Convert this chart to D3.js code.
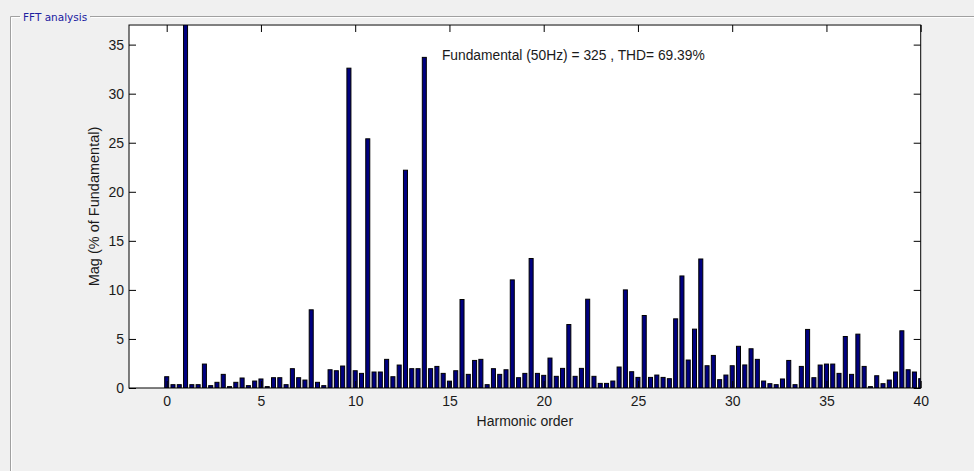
<!DOCTYPE html>
<html>
<head>
<meta charset="utf-8">
<script src="https://cdn.jsdelivr.net/npm/d3@7"></script>
<style>
  html, body { margin: 0; padding: 0; background: #f0f0f0; }
  svg { display: block; font-family: "Liberation Sans", Arial, sans-serif; }
</style>
</head>
<body>
<svg id="chart" width="974" height="471"></svg>
<script>
// Harmonic spectrum, bins spaced 1/3 of the fundamental (50 Hz / 3 resolution)
const binStep = 1 / 3;
const magnitudes = [
  1.15, 0.34, 0.34, 100, 0.34, 0.34, 2.44, 0.24, 0.58, 1.39,
  0.14, 0.58, 1.02, 0.24, 0.71, 0.92, 0.14, 1.05, 1.05, 0.34,
  1.97, 1.05, 0.81, 7.97, 0.58, 0.24, 1.86, 1.76, 2.24, 32.6,
  1.76, 1.49, 25.4, 1.63, 1.63, 2.92, 1.15, 2.34, 22.2, 1.97,
  1.97, 33.7, 1.97, 2.2, 1.49, 0.7, 1.76, 9.02, 1.39, 2.81,
  2.92, 0.34, 1.97, 1.39, 1.86, 11.02, 1.05, 1.49, 13.2, 1.49,
  1.29, 3.05, 1.19, 2.0, 6.47, 1.19, 2.0, 9.05, 1.19, 0.47,
  0.47, 0.71, 2.14, 10.0, 1.66, 1.08, 7.39, 1.08, 1.32, 1.08,
  0.95, 7.05, 11.42, 2.85, 6.0, 13.15, 2.27, 3.32, 0.85, 1.32,
  2.27, 4.25, 2.35, 4.0, 2.92, 0.71, 0.44, 0.34, 0.92, 2.81,
  0.34, 2.2, 5.97, 1.05, 2.34, 2.44, 2.44, 1.49, 5.25, 1.39,
  5.49, 2.2, 0.14, 1.25, 0.44, 0.81, 1.63, 5.83, 1.86, 1.63,
  0.95
];
const harmonicOrders = magnitudes.map((_, i) => i * binStep);
const xTicks = [0, 5, 10, 15, 20, 25, 30, 35, 40];
const yTicks = [0, 5, 10, 15, 20, 25, 30, 35];
const panelTitle = "FFT analysis";
const xLabel = "Harmonic order";
const yLabel = "Mag (% of Fundamental)";
const summaryText = "Fundamental (50Hz) = 325 , THD= 69.39%";

const svg = d3.select("#chart");

// Etched group-box frame
const frame = svg.append("g");
const frameLine = (x1, y1, x2, y2) => {
  frame.append("line").attr("x1", x1).attr("y1", y1).attr("x2", x2).attr("y2", y2)
    .attr("stroke", "#a0a0a0").attr("stroke-width", 1);
  frame.append("line").attr("x1", x1 + 1).attr("y1", y1 + 1).attr("x2", x2 + 1).attr("y2", y2 + 1)
    .attr("stroke", "#ffffff").attr("stroke-width", 1);
};
frameLine(10.5, 16.5, 20, 16.5);
frameLine(90, 16.5, 974, 16.5);
frameLine(10.5, 16.5, 10.5, 471);
frame.append("text").attr("x", 23).attr("y", 20.5)
  .attr("font-family", "'DejaVu Sans', sans-serif")
  .attr("font-size", 10.5).attr("fill", "#2020a0").text(panelTitle);

// Axes geometry
const plotLeft = 129, plotRight = 920.7, plotTop = 25, plotBottom = 388;
const x = d3.scaleLinear().domain([-2, 40]).range([plotLeft, plotRight]);
const y = d3.scaleLinear().domain([0, 37]).range([plotBottom, plotTop]);

svg.append("rect").attr("x", plotLeft).attr("y", plotTop)
  .attr("width", plotRight - plotLeft).attr("height", plotBottom - plotTop).attr("fill", "#ffffff");

svg.append("clipPath").attr("id", "plotClip")
  .append("rect").attr("x", plotLeft).attr("y", plotTop)
  .attr("width", plotRight - plotLeft).attr("height", plotBottom - plotTop);

// Bars
const barW = x(binStep) - x(0);
svg.append("g").attr("clip-path", "url(#plotClip)")
  .selectAll("rect").data(magnitudes).join("rect")
  .attr("x", (d, i) => x(harmonicOrders[i]) - barW * 0.32)
  .attr("width", barW * 0.64)
  .attr("y", d => y(d))
  .attr("height", d => y(0) - y(d))
  .attr("fill", "#000080")
  .attr("stroke", "#000000")
  .attr("stroke-width", 1);

// Axes with inward ticks
const tickLen = 7;
const bottomAxis = d3.axisBottom(x).tickValues(xTicks).tickSize(-tickLen).tickPadding(8).tickFormat(d3.format("d"));
const topAxis = d3.axisTop(x).tickValues(xTicks).tickSize(-tickLen).tickFormat("");
const leftAxis = d3.axisLeft(y).tickValues(yTicks).tickSize(-tickLen).tickPadding(5).tickFormat(d3.format("d"));
const rightAxis = d3.axisRight(y).tickValues(yTicks).tickSize(-tickLen).tickFormat("");

function styleAxis(g) {
  g.select(".domain").remove();
  g.selectAll(".tick line").attr("stroke", "#000").attr("stroke-width", 1);
  g.selectAll(".tick text").attr("font-size", 14).attr("fill", "#1a1a1a")
    .attr("font-family", "'Liberation Sans', Arial, sans-serif");
}
svg.append("g").attr("transform", `translate(0,${plotBottom})`).call(bottomAxis).call(styleAxis);
svg.append("g").attr("transform", `translate(0,${plotTop})`).call(topAxis).call(styleAxis);
svg.append("g").attr("transform", `translate(${plotLeft},0)`).call(leftAxis).call(styleAxis);
svg.append("g").attr("transform", `translate(${plotRight},0)`).call(rightAxis).call(styleAxis);

// Axes box
svg.append("rect").attr("x", plotLeft).attr("y", plotTop)
  .attr("width", plotRight - plotLeft).attr("height", plotBottom - plotTop)
  .attr("fill", "none").attr("stroke", "#000").attr("stroke-width", 1);
svg.append("line").attr("x1", plotLeft).attr("x2", plotRight)
  .attr("y1", plotTop - 0.5).attr("y2", plotTop - 0.5)
  .attr("stroke", "#808080").attr("stroke-width", 1);

// Labels
svg.append("text").attr("x", (plotLeft + plotRight) / 2).attr("y", 426)
  .attr("text-anchor", "middle").attr("font-size", 14).attr("fill", "#1a1a1a").text(xLabel);
svg.append("text")
  .attr("transform", `translate(99,${(plotTop + plotBottom) / 2}) rotate(-90)`)
  .attr("text-anchor", "middle").attr("font-size", 14.5).attr("fill", "#1a1a1a").text(yLabel);
svg.append("text").attr("x", x(14.6)).attr("y", 59.5)
  .attr("font-size", 13.8).attr("fill", "#1a1a1a").text(summaryText);
</script>
</body>
</html>
